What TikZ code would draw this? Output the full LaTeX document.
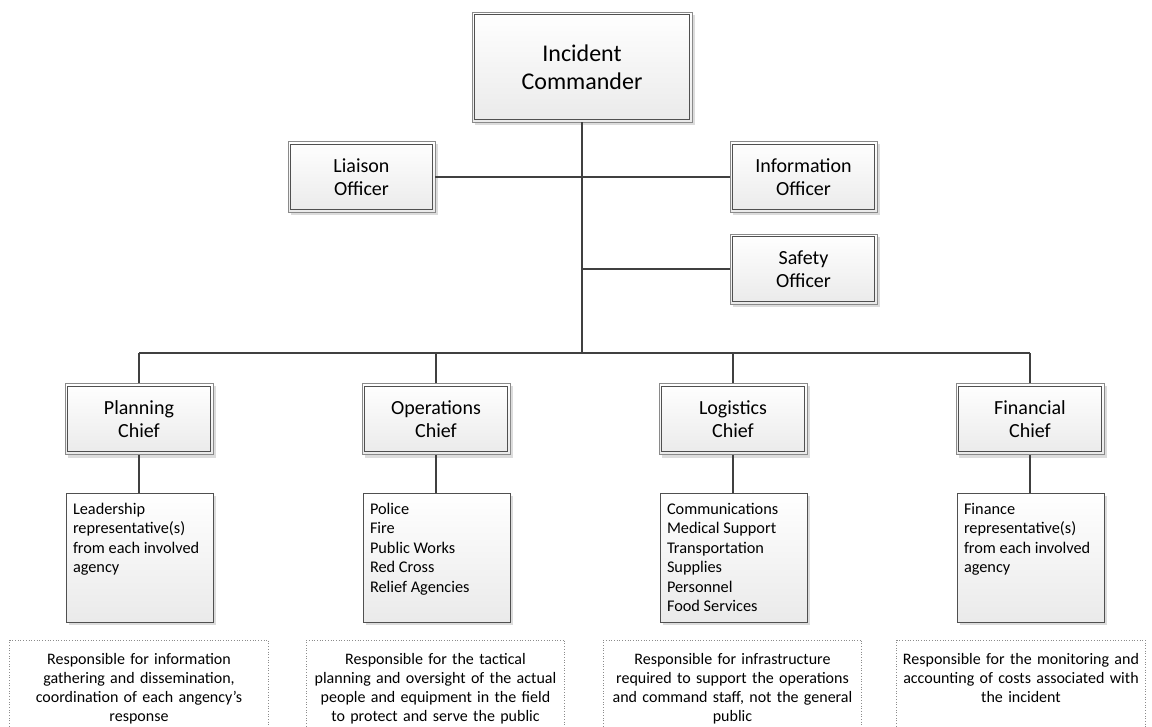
\documentclass[tikz,border=0pt]{standalone}
\usepackage{fontspec}
\setmainfont{Carlito}
\definecolor{linec}{HTML}{404040}
\definecolor{outerc}{HTML}{8A8A8A}
\definecolor{innerc}{HTML}{505050}
\definecolor{shadec}{HTML}{EAEAEA}
\definecolor{shadowc}{HTML}{DCDCDC}
\begin{document}
\begin{tikzpicture}[x=1pt,y=-1pt,
  shadowed/.style={preaction={fill=shadowc, transform canvas={shift={(3pt,-3pt)}}}},
  dbox/.style={rectangle, shadowed, top color=white, bottom color=shadec,
    draw=outerc, line width=0.9pt, inner sep=0pt, align=center,
    path picture={\draw[innerc, line width=1pt]
      ([shift={(2.6pt,-2.6pt)}]path picture bounding box.north west) rectangle
      ([shift={(-2.6pt,2.6pt)}]path picture bounding box.south east);}},
  rolebox/.style={dbox, minimum width=148pt, minimum height=71pt,
    font=\fontsize{20}{23}\selectfont},
  textbox/.style={rectangle, shadowed, top color=white, bottom color=shadec,
    draw=innerc, line width=0.9pt, inner xsep=7pt, inner ysep=10pt,
    minimum width=147pt, minimum height=129pt, font=\fontsize{16.3}{19.5}\selectfont},
  notebox/.style={rectangle, anchor=north, text width=252pt, align=center,
    inner xsep=3pt, inner ysep=13pt, font=\fontsize{16}{19}\selectfont},
  dotline/.style={draw=black!45, dotted, line width=0.7pt},
  conn/.style={draw=linec, line width=1.8pt}
]
\useasboundingbox (0,0) rectangle (1152,727);

% top level
\node[dbox, minimum width=220pt, minimum height=110pt,
  font=\fontsize{24}{28}\selectfont] (ic) at (582,67) {Incident\\Commander};
\node[rolebox, minimum width=147pt] (lo) at (361.5,177) {Liaison\\Officer};
\node[rolebox, minimum width=147pt] (io) at (803.5,177) {Information\\Officer};
\node[rolebox, minimum width=147pt, minimum height=70pt] (so) at (803.5,269) {Safety\\Officer};

\coordinate (bus) at (582,353);

% chiefs
\node[rolebox] (pc) at (139,419) {Planning\\Chief};
\node[rolebox] (oc) at (436,419) {Operations\\Chief};
\node[rolebox] (lc) at (733,419) {Logistics\\Chief};
\node[rolebox] (fc) at (1030,419) {Financial\\Chief};

% text boxes
\node[textbox] (pt) at (139.5,557.5) {\parbox[c][109pt][t]{133pt}{\raggedright
  Leadership\\representative(s)\\from each involved\\agency}};
\node[textbox] (ot) at (436.5,557.5) {\parbox[c][109pt][t]{133pt}{\raggedright
  Police\\Fire\\Public Works\\Red Cross\\Relief Agencies}};
\node[textbox] (lt) at (733.5,557.5) {\parbox[c][109pt][t]{133pt}{\raggedright
  Communications\\Medical Support\\Transportation\\Supplies\\Personnel\\Food Services}};
\node[textbox] (ft) at (1030.5,557.5) {\parbox[c][109pt][t]{133pt}{\raggedright
  Finance\\representative(s)\\from each involved\\agency}};

% notes
\node[notebox] (pn) at (139,640) {Responsible for information\\gathering and dissemination,\\coordination of each angency’s\\response};
\node[notebox] (on) at (435.5,640) {Responsible for the tactical\\planning and oversight of the actual\\people and equipment in the field\\to protect and serve the public};
\node[notebox] (ln) at (732.5,640) {Responsible for infrastructure\\required to support the operations\\and command staff, not the general\\public};
\node[notebox, text width=242pt] (fn) at (1021,640) {Responsible for the monitoring and\\accounting of costs associated with\\the incident};

\foreach \n in {pn,on,ln,fn}{
  \draw[dotline] (\n.north west |- 0,740) -- (\n.north west) -- (\n.north east) -- (\n.north east |- 0,740);
}

% connectors
\draw[conn] (ic.south) -- (bus);
\draw[conn] (lo.east) -- (io.west);
\draw[conn] (so.west) -- (so.west -| bus);
\draw[conn] (pc.north |- bus) -- (fc.north |- bus);
\foreach \c/\t in {pc/pt,oc/ot,lc/lt,fc/ft}{
  \draw[conn] (\c.north) -- (\c.north |- bus);
  \draw[conn] (\c.south) -- (\t.north -| \c.south);
}
\end{tikzpicture}
\end{document}
